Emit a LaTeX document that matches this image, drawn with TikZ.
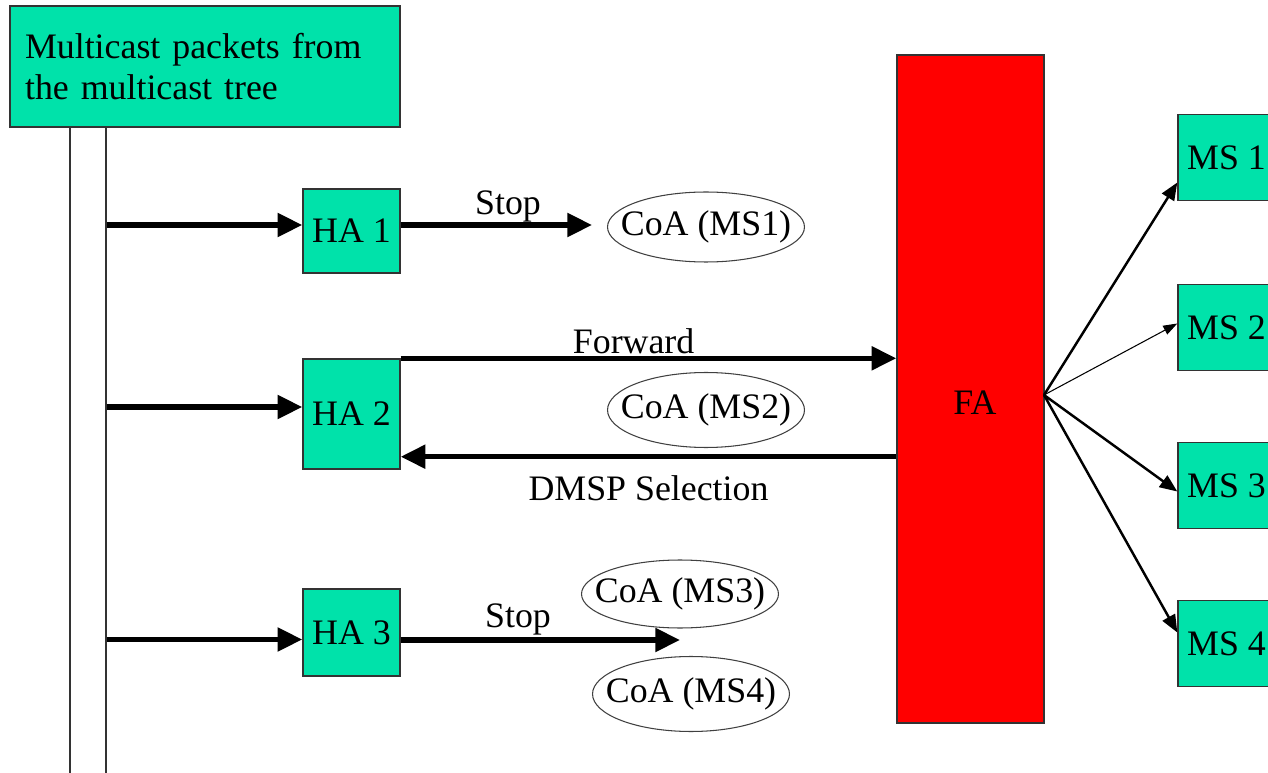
\documentclass[tikz,border=0pt]{standalone}
\usepackage{fontspec}
\setmainfont{Liberation Serif}
\usetikzlibrary{arrows.meta,shapes.geometric}
\definecolor{boxgreen}{RGB}{0,226,170}
\definecolor{fared}{RGB}{255,0,0}
\tikzset{
  every node/.style={font=\fontsize{20.4}{23}\selectfont},
  greenbox/.style={draw=black!80, line width=0.8pt, fill=boxgreen, inner sep=0pt},
  habox/.style={greenbox, minimum width=1.94cm},
  msbox/.style={greenbox, minimum width=1.94cm, minimum height=1.72cm},
  coa/.style={draw=black!75, line width=0.6pt, ellipse, inner sep=0pt, minimum width=3.94cm},
  fat/.style={line width=3.1pt, -{Triangle[length=14pt,width=13pt]}},
  fan/.style={line width=1.4pt, -{Triangle[length=10pt,width=8pt]}},
  thinfan/.style={line width=0.6pt, -{Triangle[length=8pt,width=5.5pt]}},
  lbl/.style={inner sep=1pt}
}
\begin{document}
\begin{tikzpicture}[x=0.02cm,y=-0.02cm]
\useasboundingbox (0,0) rectangle (1268,773);
\clip (0,0) rectangle (1268,773);
\fill[white] (0,0) rectangle (1268,773);

% source of the multicast packets and the vertical feed
\node[draw=black!80, line width=0.8pt, fill=white, minimum width=0.72cm, minimum height=13.2cm] (bar) at (88,455) {};
\node[greenbox, minimum width=7.8cm, minimum height=2.42cm, text width=7.2cm, align=left, inner xsep=0.3cm] (src) at (205,66.5)
  {Multicast packets from\\the multicast tree};

% home agents
\node[habox, minimum height=1.68cm] (ha1) at (351.5,231) {HA 1};
\node[habox, minimum height=2.2cm]  (ha2) at (351.5,414) {HA 2};
\node[habox, minimum height=1.74cm] (ha3) at (351.5,632.5) {HA 3};

% care-of addresses (text may run over the outline)
\node[coa, minimum height=1.4cm, label=center:{CoA (MS1)}] (coa1) at (706,227) {};
\node[coa, minimum height=1.5cm, label=center:{CoA (MS2)}] (coa2) at (706,410) {};
\node[coa, minimum height=1.36cm, label=center:{CoA (MS3)}] (coa3) at (680,594) {};
\node[coa, minimum height=1.5cm, label=center:{CoA (MS4)}] (coa4) at (691,694) {};

% foreign agent
\node[draw=black!80, line width=0.8pt, fill=fared, minimum width=2.94cm, minimum height=13.36cm] (fa) at (970.5,389) {};
\node (falbl) at (975,403) {FA};

% mobile stations
\node[msbox] (ms1) at (1226.5,157.5) {MS 1};
\node[msbox] (ms2) at (1226.5,327.5) {MS 2};
\node[msbox] (ms3) at (1226.5,485.5) {MS 3};
\node[msbox] (ms4) at (1226.5,643.5) {MS 4};

% feed into the home agents
\draw[fat] ([yshift=0.12cm]bar.east |- ha1) -- ([yshift=0.12cm]ha1.west);
\draw[fat] ([yshift=0.14cm]bar.east |- ha2) -- ([yshift=0.14cm]ha2.west);
\draw[fat] ([yshift=-0.14cm]bar.east |- ha3) -- ([yshift=-0.14cm]ha3.west);

% HA 1 stops
\coordinate (stop1) at ([yshift=0.12cm]ha1.east);
\draw[fat, shorten >=8.5pt] (stop1) -- (stop1 -| coa1.west)
  node[lbl, pos=0.52, above=-1pt] {Stop};

% HA 2 forwards to the FA, FA answers with the selection
\draw[fat] (ha2.north east) -- (ha2.north east -| fa.west)
  node[lbl, pos=0.47, above=0pt] {Forward};
\coordinate (dmspstart) at ([yshift=0.26cm]fa.west |- ha2.south);
\draw[fat] (dmspstart) -- (dmspstart -| ha2.east)
  node[lbl, pos=0.5, below=8pt] {DMSP Selection};

% HA 3 stops
\coordinate (stop3) at (680,640);
\draw[fat] (ha3.east |- stop3) -- (stop3)
  node[lbl, pos=0.42, above=0pt] {Stop};

% FA fans out to the mobile stations
\coordinate (fan) at (1044,395);
\draw[fan] (fan) -- ([yshift=-0.5cm]ms1.west);
\draw[thinfan] (fan) -- ([yshift=0.08cm]ms2.west);
\draw[fan] (fan) -- ([yshift=-0.12cm]ms3.west);
\draw[fan] (fan) -- ([yshift=0.22cm]ms4.west);
\end{tikzpicture}
\end{document}
